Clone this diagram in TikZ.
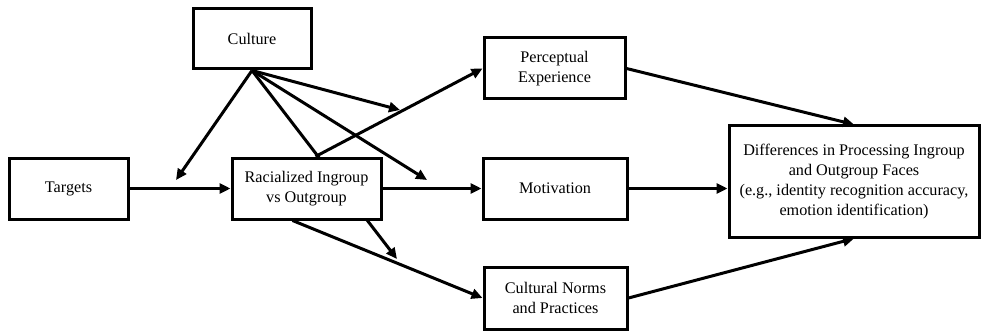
\documentclass[tikz,border=0pt]{standalone}
\usepackage{fontspec}
\setmainfont{Liberation Serif}
\usetikzlibrary{arrows.meta}
\tikzset{
  box/.style={draw, line width=3pt, fill=white, align=center, inner sep=2pt,
    font=\fontsize{16.2}{20}\selectfont},
  arr/.style={draw, line width=3pt, -{Triangle[length=11pt,width=10pt]}}
}
\begin{document}
\begin{tikzpicture}[x=1pt, y=-1pt]
\useasboundingbox (0,0) rectangle (982,334);
\node[box, minimum width=118pt, minimum height=60pt] (1) at (252,39) {Culture};
\node[box, minimum width=119pt, minimum height=61pt] (2) at (68.5,188.5) {Targets};
\node[box, minimum width=141pt, minimum height=61pt] (4) at (554.5,68.5) {Perceptual\\Experience};
\node[box, minimum width=144pt, minimum height=61pt] (5) at (555,188.5) {Motivation};
\node[box, minimum width=143pt, minimum height=62pt] (7) at (555.5,298) {Cultural Norms\\and Practices};
\node[box, minimum width=250pt, minimum height=111pt] (6) at (854,181.5) {Differences in Processing Ingroup\\and Outgroup Faces\\(e.g., identity recognition accuracy,\\emotion identification)};
\coordinate (m1) at (176,180);
\coordinate (m2) at (400,110);
\coordinate (m3) at (427,180);
\coordinate (m4) at (397,259);
% this one runs behind the racialized box
\path[arr] (1.south) -- (m4);
\node[box, minimum width=149pt, minimum height=61pt] (3) at (306.5,188.5) {Racialized Ingroup\\vs Outgroup};
\path[arr] (2.east) -- (3.west);
\path[arr] ([xshift=9pt]3.north) -- (4.west);
\path[arr] (3.east) -- (5.west);
\path[arr] ([xshift=-14pt]3.south) -- (7.west);
\path[arr] (4.east) -- (6.north);
\path[arr] (5.east) -- (5.east -| 6.west);
\path[arr] (7.east) -- (6.south);
\path[arr] (1.south) -- (m1);
\path[arr] (1.south) -- (m2);
\path[arr] (1.south) -- (m3);
\end{tikzpicture}
\end{document}
